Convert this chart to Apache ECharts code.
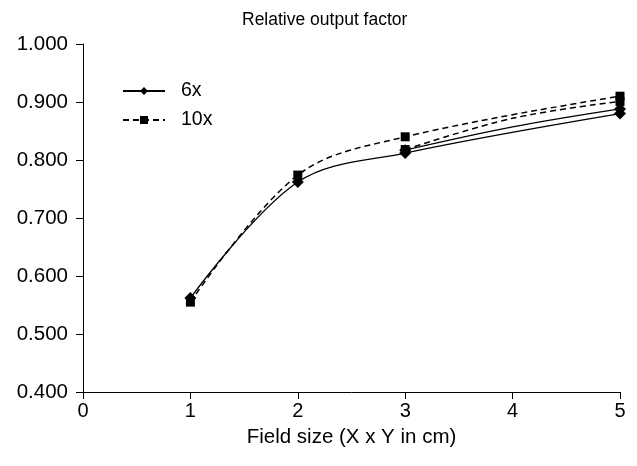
<!DOCTYPE html>
<html><head><meta charset="utf-8">
<script src="https://cdn.jsdelivr.net/npm/echarts@6/dist/echarts.min.js"></script>
<style>html,body{margin:0;padding:0;background:#fff}#c{width:637px;height:466px}</style>
</head><body><div id="c"></div>
<script>
const titleText = 'Relative output factor';
const xName = 'Field size (X x Y in cm)';
const seriesNames = ['6x', '10x'];
// main measured curves
const x6a = [1, 2, 3, 5];
const y6a = [0.562, 0.762, 0.812, 0.880];
const x10a = [1, 2, 3, 5];
const y10a = [0.555, 0.774, 0.840, 0.910];
// second measurement set (no legend entry)
const x6b = [3, 4, 5];
const y6b = [0.817, 0.857, 0.888];
const x10b = [3, 4, 5];
const y10b = [0.818, 0.872, 0.901];
const markerOn = [true, false, true];

const font = 'Liberation Sans, Arial, sans-serif';
function pairs(xs, ys) { return xs.map((x, i) => [x, ys[i]]); }
function pairsMarked(xs, ys, m) {
  return xs.map((x, i) => m[i] ? [x, ys[i]] : { value: [x, ys[i]], symbol: 'none' });
}
const chart = echarts.init(document.getElementById('c'));
chart.setOption({
  animation: false,
  backgroundColor: '#fff',
  title: { text: titleText, left: 237, top: 6,
    textStyle: { fontFamily: font, fontSize: 17.5, fontWeight: 'normal', color: '#000' } },
  legend: {
    left: 117, top: 76, orient: 'vertical', itemWidth: 42, itemHeight: 10, itemGap: 9,
    data: seriesNames,
    textStyle: { fontFamily: font, fontSize: 19.5, color: '#000', padding: [0, 0, 0, 11] }
  },
  grid: { left: 83, right: 17, top: 44, bottom: 74 },
  xAxis: {
    type: 'value', min: 0, max: 5, interval: 1,
    name: xName, nameLocation: 'middle', nameGap: 35,
    nameTextStyle: { fontFamily: font, fontSize: 20.5, color: '#000' },
    axisLine: { lineStyle: { color: '#000', width: 1 } },
    axisTick: { show: true, length: 7, lineStyle: { color: '#000' } },
    axisLabel: { fontFamily: font, fontSize: 20, color: '#000', margin: 9 },
    splitLine: { show: false }
  },
  yAxis: {
    type: 'value', min: 0.4, max: 1.0, interval: 0.1,
    axisLine: { show: true, lineStyle: { color: '#000', width: 1 } },
    axisTick: { show: true, length: 7, lineStyle: { color: '#000' } },
    axisLabel: { fontFamily: font, fontSize: 20.5, color: '#000', margin: 15,
      formatter: v => v.toFixed(3) },
    splitLine: { show: false }
  },
  series: [
    { name: seriesNames[0], type: 'line', data: pairs(x6a, y6a), smooth: 0.35,
      symbol: 'diamond', symbolSize: 12, itemStyle: { color: '#000' },
      lineStyle: { color: '#000', width: 1.3, type: 'solid' } },
    { name: seriesNames[1], type: 'line', data: pairs(x10a, y10a), smooth: 0.35,
      symbol: 'rect', symbolSize: 9, itemStyle: { color: '#000' },
      lineStyle: { color: '#000', width: 1.5, type: [6, 4] } },
    { name: '6x-b', type: 'line', data: pairsMarked(x6b, y6b, markerOn), smooth: 0.35,
      symbol: 'diamond', symbolSize: 12, itemStyle: { color: '#000' },
      lineStyle: { color: '#000', width: 1.3, type: 'solid' } },
    { name: '10x-b', type: 'line', data: pairsMarked(x10b, y10b, markerOn), smooth: 0.35,
      symbol: 'rect', symbolSize: 9, itemStyle: { color: '#000' },
      lineStyle: { color: '#000', width: 1.5, type: [6, 4] } }
  ]
});
</script></body></html>
